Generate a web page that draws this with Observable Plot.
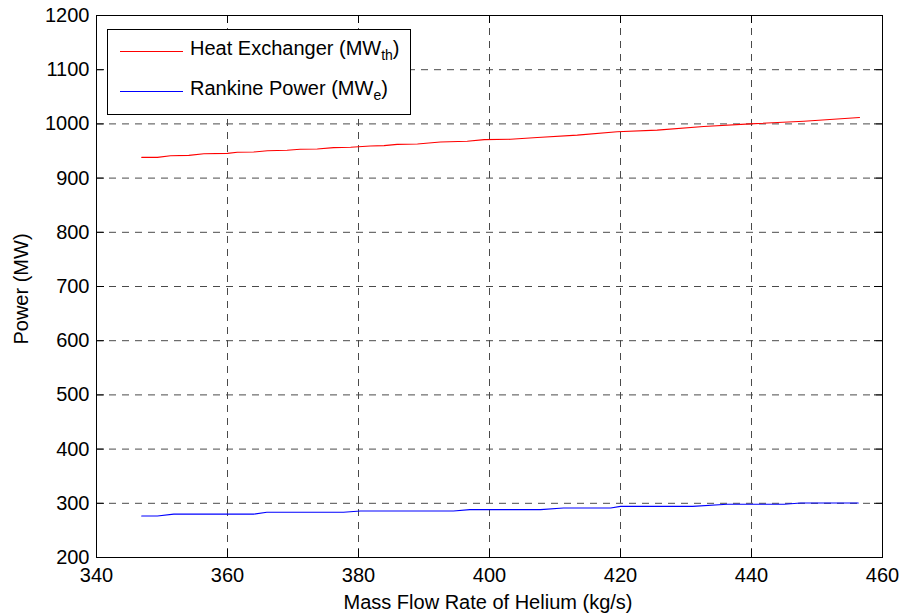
<!DOCTYPE html>
<html>
<head>
<meta charset="utf-8">
<script src="https://cdn.jsdelivr.net/npm/d3@7"></script>
<script src="https://cdn.jsdelivr.net/npm/@observablehq/plot@0.6"></script>
<style>
  html, body { margin: 0; padding: 0; background: #fff; }
  #chart svg { display: block; }
</style>
</head>
<body>
<div id="chart"></div>
<script>
// Heat exchanger thermal power vs. helium mass flow
const heatFlow = [346.9, 349.3, 351.3, 354.1, 356.4, 360, 361.5, 364, 366.1, 369.1, 371.1, 373.7, 376.2, 378.8, 381.8, 383.9, 385.9, 389, 392.5, 396.6, 399.2, 403.2, 407.3, 413.4, 419.5, 425.6, 432.7, 439.8, 448, 456.5];
const heatPower = [938.3, 938.3, 941.3, 942, 945, 945.7, 947.6, 948.1, 950.6, 951.3, 953.1, 953.7, 956.2, 956.8, 959.3, 959.9, 962.3, 963, 966.7, 967.9, 970.9, 971.6, 975, 979.3, 985.4, 988.5, 995.3, 1000, 1005, 1011.8];

// Rankine cycle electric power vs. helium mass flow
const rankFlow = [346.9, 349.3, 351.8, 364, 366, 377.7, 380.3, 394.5, 397, 407.8, 411.3, 418.5, 420, 431, 436.3, 445, 447.5, 456.3];
const rankPower = [276.6, 276.6, 280, 280, 283.4, 283.4, 285.8, 285.8, 288.4, 288.4, 291.3, 291.3, 294.4, 294.4, 298.2, 298.2, 300.6, 300.6];

const xTicks = [340, 360, 380, 400, 420, 440, 460];
const yTicks = [200, 300, 400, 500, 600, 700, 800, 900, 1000, 1100, 1200];

const xLabel = "Mass Flow Rate of Helium (kg/s)";
const yLabel = "Power (MW)";
const seriesNames = [["Heat Exchanger (MW", "th", ")"], ["Rankine Power (MW", "e", ")"]];
const seriesColors = ["#ff0000", "#0000ff"];

const heat = heatFlow.map((x, i) => ({x, y: heatPower[i]}));
const rank = rankFlow.map((x, i) => ({x, y: rankPower[i]}));

const W = 902, H = 616;
const mL = 96, mR = 20, mT = 15, mB = 59;
const innerW = W - mL - mR;
const innerH = H - mT - mB;
const tickLen = 8;
const font = "'Liberation Sans', Arial, Helvetica, sans-serif";
const grid = {stroke: "#4a4a4a", strokeOpacity: 1, strokeWidth: 1, strokeDasharray: "7,6"};

const chart = Plot.plot({
  width: W,
  height: H,
  marginLeft: mL,
  marginRight: mR,
  marginTop: mT,
  marginBottom: mB,
  style: {fontFamily: font, fontSize: "20px", color: "#000", background: "#fff"},
  x: {domain: [340, 460], ticks: xTicks},
  y: {domain: [200, 1200], ticks: yTicks},
  marks: [
    Plot.gridX(xTicks, grid),
    Plot.gridY(yTicks, grid),
    // inward ticks on all four sides
    Plot.tickX(xTicks, {x: d => d, stroke: "#000", insetTop: innerH - tickLen}),
    Plot.tickX(xTicks, {x: d => d, stroke: "#000", insetBottom: innerH - tickLen}),
    Plot.tickY(yTicks, {y: d => d, stroke: "#000", insetRight: innerW - tickLen}),
    Plot.tickY(yTicks, {y: d => d, stroke: "#000", insetLeft: innerW - tickLen}),
    Plot.axisX(xTicks, {tickSize: 0, tickPadding: 10, fontSize: 20, label: null, tickFormat: d => String(d)}),
    Plot.axisY(yTicks, {tickSize: 0, tickPadding: 7, fontSize: 20, label: null, tickFormat: d => String(d)}),
    Plot.line(heat, {x: "x", y: "y", stroke: seriesColors[0], strokeWidth: 1.1}),
    Plot.line(rank, {x: "x", y: "y", stroke: seriesColors[1], strokeWidth: 1.1}),
    Plot.frame({stroke: "#000", strokeWidth: 1})
  ]
});

document.getElementById("chart").appendChild(chart);

const svg = d3.select(chart);

// Axis titles
svg.append("text")
  .attr("x", 488).attr("y", 609)
  .attr("text-anchor", "middle").attr("font-family", font).attr("font-size", 20).attr("fill", "#000")
  .text(xLabel);
svg.append("text")
  .attr("transform", "translate(28,289) rotate(-90)")
  .attr("text-anchor", "middle").attr("font-family", font).attr("font-size", 20).attr("fill", "#000")
  .text(yLabel);

// Legend box in the upper-left corner of the axes
const lg = svg.append("g")
  .attr("font-family", font).attr("font-size", 20).attr("text-anchor", "start");
const box = lg.append("rect")
  .attr("x", 107.5).attr("y", 29.5).attr("height", 85)
  .attr("fill", "#fff").attr("stroke", "#000").attr("stroke-width", 1);
let maxEnd = 0;
seriesNames.forEach((parts, i) => {
  const cy = 51 + i * 40;
  lg.append("line")
    .attr("x1", 120).attr("x2", 183).attr("y1", cy + 0.5).attr("y2", cy + 0.5)
    .attr("stroke", seriesColors[i]).attr("stroke-width", 1);
  const t = lg.append("text").attr("x", 190).attr("y", cy + 4).attr("fill", "#000");
  t.append("tspan").text(parts[0]);
  t.append("tspan").attr("font-size", 14).attr("dy", 5).text(parts[1]);
  t.append("tspan").attr("dy", -5).text(parts[2]);
  const bb = t.node().getBBox();
  maxEnd = Math.max(maxEnd, bb.x + bb.width);
});
box.attr("width", Math.round(maxEnd + 10) - 107);
</script>
</body>
</html>
